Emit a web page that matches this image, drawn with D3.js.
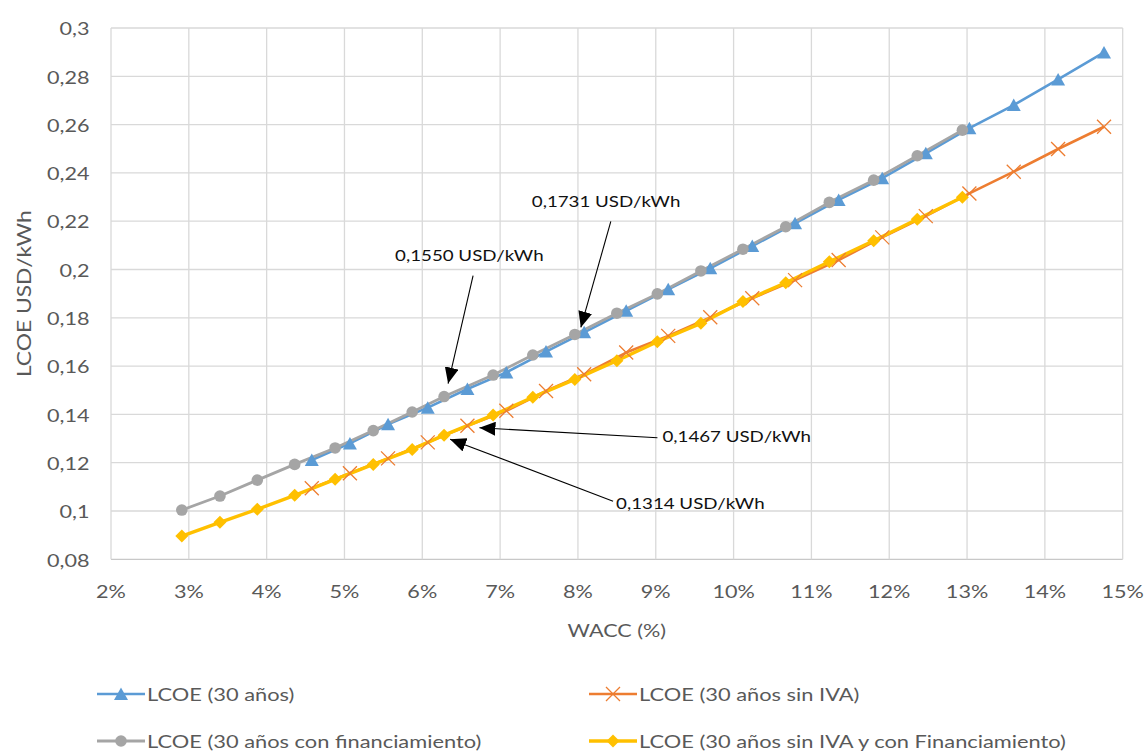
<!DOCTYPE html>
<html>
<head>
<meta charset="utf-8">
<script src="https://cdn.jsdelivr.net/npm/d3@7"></script>
<style>
  body { margin: 0; background: #fff; }
  text { font-family: Lato, "Open Sans", sans-serif; }
</style>
</head>
<body>
<svg id="chart" width="1147" height="751"></svg>
<script>
// WACC (%) grid shared by "LCOE (30 años)" and "LCOE (30 años sin IVA)"
const waccSinFin = [4.58, 5.07, 5.56, 6.07, 6.58, 7.08, 7.59, 8.08, 8.62, 9.16,
                    9.70, 10.24, 10.79, 11.35, 11.91, 12.47, 13.03, 13.60, 14.17, 14.76];
// WACC (%) grid shared by the two financed series
const waccConFin = [2.91, 3.40, 3.88, 4.36, 4.88, 5.37, 5.87, 6.28, 6.91, 7.42,
                    7.96, 8.50, 9.02, 9.58, 10.12, 10.67, 11.23, 11.80, 12.36, 12.94];

// LCOE values, USD/kWh
const lcoe30 = [0.1211, 0.1280, 0.1359, 0.1428, 0.1505, 0.1574, 0.1660, 0.1740, 0.1829, 0.1918,
                0.2005, 0.2097, 0.2191, 0.2288, 0.2378, 0.2481, 0.2585, 0.2681, 0.2787, 0.2899];
const lcoe30SinIva = [0.1094, 0.1156, 0.1218, 0.1284, 0.1353, 0.1415, 0.1497, 0.1566, 0.1656, 0.1725,
                      0.1802, 0.1881, 0.1956, 0.2039, 0.2133, 0.2221, 0.2315, 0.2405, 0.2499, 0.2591];
const lcoe30ConFin = [0.1004, 0.1062, 0.1128, 0.1193, 0.1261, 0.1333, 0.1410, 0.1474, 0.1563, 0.1646,
                      0.1731, 0.1819, 0.1899, 0.1994, 0.2084, 0.2177, 0.2278, 0.2370, 0.2471, 0.2577];
const lcoe30SinIvaConFin = [0.0896, 0.0953, 0.1007, 0.1065, 0.1131, 0.1193, 0.1255, 0.1314, 0.1397, 0.1471,
                            0.1545, 0.1622, 0.1701, 0.1777, 0.1867, 0.1945, 0.2032, 0.2119, 0.2208, 0.2299];

const seriesNames = ["LCOE (30 años)", "LCOE (30 años sin IVA)",
                     "LCOE (30 años con financiamiento)", "LCOE (30 años sin IVA y con Financiamiento)"];

const xTicks = [2, 3, 4, 5, 6, 7, 8, 9, 10, 11, 12, 13, 14, 15];
const yTicks = [0.08, 0.10, 0.12, 0.14, 0.16, 0.18, 0.20, 0.22, 0.24, 0.26, 0.28, 0.30];

const xTitle = "WACC (%)";
const yTitle = "LCOE USD/kWh";

// Callout texts and the point each one refers to (series index, point index)
const calloutTexts = ["0,1550 USD/kWh", "0,1731 USD/kWh", "0,1467 USD/kWh", "0,1314 USD/kWh"];
const calloutSeries = [2, 2, 1, 3];
const calloutPoint = [7, 10, 4, 7];

// ---------------------------------------------------------------------------
const svg = d3.select("#chart");
const plot = { left: 111, right: 1122.7, top: 28, bottom: 559.3 };
const textStretch = 1.2;

const x = d3.scaleLinear().domain([2, 15]).range([plot.left, plot.right]);
const y = d3.scaleLinear().domain([0.08, 0.30]).range([plot.bottom, plot.top]);

const locale = d3.formatLocale({ decimal: ",", thousands: ".", grouping: [3], currency: ["", ""] });
const fmtY = locale.format("~r");

const series = [
  { name: seriesNames[0], xs: waccSinFin, ys: lcoe30, color: "#5B9BD5", width: 2.6, marker: "triangle" },
  { name: seriesNames[1], xs: waccSinFin, ys: lcoe30SinIva, color: "#ED7D31", width: 2.6, marker: "cross" },
  { name: seriesNames[2], xs: waccConFin, ys: lcoe30ConFin, color: "#A5A5A5", width: 2.8, marker: "circle" },
  { name: seriesNames[3], xs: waccConFin, ys: lcoe30SinIvaConFin, color: "#FFC000", width: 3.4, marker: "diamond" }
];

// Text helper: Calibri-like horizontal proportions via a slight x-stretch
function addText(g, str, px, py, opts) {
  const t = g.append("text")
    .attr("transform", `translate(${px},${py}) ${opts.rotate ? "rotate(-90)" : ""} scale(${textStretch},1)`)
    .attr("text-anchor", opts.anchor || "start")
    .attr("dominant-baseline", "central")
    .attr("font-size", opts.size)
    .attr("fill", opts.color || "#595959")
    .text(str);
  return t;
}

// Gridlines
const grid = svg.append("g");
grid.selectAll("line.h").data(yTicks).join("line")
  .attr("x1", plot.left).attr("x2", plot.right)
  .attr("y1", d => y(d)).attr("y2", d => y(d))
  .attr("stroke", d => d === yTicks[0] ? "#c8c8c8" : "#d9d9d9").attr("stroke-width", 1.3);
grid.selectAll("line.v").data(xTicks).join("line")
  .attr("y1", plot.top).attr("y2", plot.bottom)
  .attr("x1", d => x(d)).attr("x2", d => x(d))
  .attr("stroke", "#d9d9d9").attr("stroke-width", 1.3);

// Tick labels
const labels = svg.append("g");
yTicks.forEach(v => addText(labels, fmtY(v), plot.left - 21.5, y(v), { size: 18, anchor: "end" }));
xTicks.forEach(v => addText(labels, v + "%", x(v), 591, { size: 18, anchor: "middle" }));

// Axis titles
addText(labels, xTitle, (plot.left + plot.right) / 2, 630, { size: 18, anchor: "middle" });
addText(labels, yTitle, 23, (plot.top + plot.bottom) / 2, { size: 19, anchor: "middle", rotate: true });

// Marker shapes
function drawMarker(g, type, cx, cy, color) {
  if (type === "triangle") {
    g.append("path").attr("d", `M${cx},${cy - 6.5}L${cx + 7},${cy + 6}L${cx - 7},${cy + 6}Z`).attr("fill", color);
  } else if (type === "circle") {
    g.append("circle").attr("cx", cx).attr("cy", cy).attr("r", 5.8).attr("fill", color);
  } else if (type === "diamond") {
    g.append("path").attr("d", `M${cx},${cy - 6.5}L${cx + 6.5},${cy}L${cx},${cy + 6.5}L${cx - 6.5},${cy}Z`).attr("fill", color);
  } else if (type === "cross") {
    const s = 7;
    g.append("path").attr("d", `M${cx - s},${cy - s}L${cx + s},${cy + s}M${cx - s},${cy + s}L${cx + s},${cy - s}`)
      .attr("stroke", color).attr("stroke-width", 1.3).attr("fill", "none");
  }
}

// Lines first, then markers on top
const line = d3.line().x(d => x(d[0])).y(d => y(d[1]));
const linesG = svg.append("g");
series.forEach(s => {
  linesG.append("path")
    .datum(s.xs.map((v, i) => [v, s.ys[i]]))
    .attr("d", line)
    .attr("fill", "none")
    .attr("stroke", s.color)
    .attr("stroke-width", s.width)
    .attr("stroke-linejoin", "round");
});
const markersG = svg.append("g");
series.forEach(s => {
  s.xs.forEach((v, i) => drawMarker(markersG, s.marker, x(v), y(s.ys[i]), s.color));
});

// Callouts: tip offset from the point, line start and text position relative to the tip
const calloutLayout = [
  { tip: [4, -13], from: [25, -108], text: [-53, -128] },
  { tip: [6, -7], from: [30, -106], text: [-49, -126] },
  { tip: [12, 2], from: [178, 10], text: [183, 8] },
  { tip: [6, 4], from: [163, 62], text: [166, 64] }
];
svg.append("defs").append("marker")
  .attr("id", "arrowhead")
  .attr("viewBox", "0 0 16 14")
  .attr("refX", 16).attr("refY", 7)
  .attr("markerWidth", 16).attr("markerHeight", 14)
  .attr("markerUnits", "userSpaceOnUse")
  .attr("orient", "auto")
  .append("path").attr("d", "M0,0L16,7L0,14Z").attr("fill", "#000");

const calloutG = svg.append("g");
calloutTexts.forEach((txt, k) => {
  const s = series[calloutSeries[k]];
  const i = calloutPoint[k];
  const L = calloutLayout[k];
  const tx = x(s.xs[i]) + L.tip[0], ty = y(s.ys[i]) + L.tip[1];
  calloutG.append("line")
    .attr("x1", tx + L.from[0]).attr("y1", ty + L.from[1])
    .attr("x2", tx).attr("y2", ty)
    .attr("stroke", "#000").attr("stroke-width", 1.1)
    .attr("marker-end", "url(#arrowhead)");
  addText(calloutG, txt, tx + L.text[0], ty + L.text[1], { size: 15.6, color: "#111" });
});

// Legend (two columns, two rows)
const legendG = svg.append("g");
const legendPos = [[97, 694], [589, 694], [97, 741], [589, 741]];
series.forEach((s, k) => {
  const [lx, ly] = legendPos[k];
  legendG.append("line").attr("x1", lx).attr("x2", lx + 48).attr("y1", ly).attr("y2", ly)
    .attr("stroke", s.color).attr("stroke-width", s.width);
  drawMarker(legendG, s.marker, lx + 24, ly, s.color);
  addText(legendG, s.name, lx + 50, ly, { size: 18.2 });
});
</script>
</body>
</html>
